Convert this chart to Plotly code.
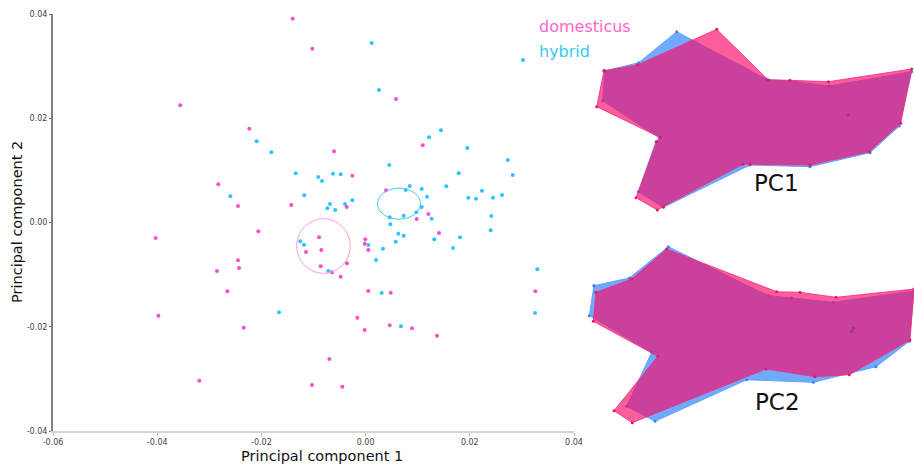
import plotly.graph_objects as go

# ---------------- scatter data (PC scores) ----------------
dom_x = [-0.01399, -0.03557, -0.02232, -0.02827, -0.02449, -0.01426, -0.02059, -0.04029,
         -0.01023, 0.00584, 0.01096, -0.00606, -0.00255, 0.00392, -0.00363, 0.01204,
         0.00981, 0.01409, -0.00894, -0.00006, -0.00017, 0.00052, -0.01144, -0.00850,
         -0.00862, -0.00645, -0.00357, -0.00478, 0.03257, 0.00052, 0.00482, -0.00159,
         -0.00017, 0.00463, 0.00891, 0.01371, -0.00697, -0.01029, -0.00447, -0.02449,
         -0.02430, -0.02852, -0.02654, -0.03979, -0.02340, -0.03192]
dom_y = [0.03910, 0.02248, 0.01800, 0.00733, 0.00316, 0.00336, -0.00169, -0.00297,
         0.03334, 0.02369, 0.01481, 0.01366, 0.00898, 0.00618, 0.00297, 0.00163,
         0.00067, -0.00202, -0.00284, -0.00322, -0.00407, -0.00528, -0.00566, -0.00528,
         -0.00840, -0.00956, -0.00783, -0.01040, -0.01320, -0.01314, -0.01347, -0.01826,
         -0.02062, -0.01972, -0.02030, -0.02172, -0.02619, -0.03118, -0.03150, -0.00725,
         -0.00873, -0.00931, -0.01320, -0.01788, -0.02018, -0.03035]

hyb_x = [-0.02090, -0.01810, -0.01342, -0.02597, 0.00117, 0.03021, 0.00257, 0.01447,
         0.01217, 0.01952, 0.02728, 0.02824, 0.00455, -0.00908, -0.00837, -0.00626,
         -0.00478, 0.01787, 0.00847, 0.01549, 0.00770, 0.01077, 0.02234, 0.01971,
         0.02119, 0.02445, 0.02618, 0.01179, -0.01177, -0.00683, -0.00735, -0.00582,
         -0.00395, -0.00255, 0.01077, 0.00973, 0.00731, 0.00463, 0.01269, 0.02413,
         0.02401, 0.00474, 0.00628, 0.00731, 0.01812, 0.01319, 0.00052, 0.00334,
         0.00578, 0.01678, 0.00200, -0.01253, -0.01182, -0.00716, 0.03296, 0.03252,
         0.00309, 0.00680, -0.01662]
hyb_y = [0.01558, 0.01347, 0.00944, 0.00503, 0.03444, 0.03117, 0.02542, 0.01769,
         0.01634, 0.01429, 0.01199, 0.00911, 0.01103, 0.00873, 0.00796, 0.00936,
         0.00925, 0.00944, 0.00700, 0.00694, 0.00623, 0.00643, 0.00610, 0.00476,
         0.00457, 0.00476, 0.00528, 0.00495, 0.00522, 0.00355, 0.00272, 0.00240,
         0.00355, 0.00426, 0.00297, 0.00196, 0.00130, 0.00100, 0.00073, 0.00125,
         -0.00150, -0.00035, -0.00215, -0.00253, -0.00284, -0.00322, -0.00432, -0.00503,
         -0.00368, -0.00489, -0.00720, -0.00361, -0.00426, -0.00931, -0.00898, -0.01736,
         -0.01353, -0.01992, -0.01723]

# group ellipses: [domesticus, hybrid]
ell_cx = [-0.00808, 0.00641]
ell_cy = [-0.00451, 0.00361]
ell_rx = [0.00514, 0.00413]
ell_ry = [0.00524, 0.00297]

x_tickvals = [-0.06, -0.04, -0.02, 0.0, 0.02, 0.04]
x_ticktext = ["-0.06", "-0.04", "-0.02", "0.00", "0.02", "0.04"]
y_tickvals = [-0.04, -0.02, 0.0, 0.02, 0.04]
y_ticktext = ["-0.04", "-0.02", "0.00", "0.02", "0.04"]

# ---------------- shape outlines (landmarks) ----------------
pc1_dom_x = [24, 57.3, 136.7, 188.3, 210, 248.3, 331.7, 320.7, 289.3, 230, 170, 162.7,
             83.3, 77.3, 56, 76.7, 80, 16.7]
pc1_dom_y = [70.7, 65, 29.3, 80, 80.3, 81.7, 69, 123.3, 151.7, 165, 164.3, 164.3,
             206.7, 210, 197.7, 141.7, 137.3, 106.7]
pc1_hyb_x = [25, 58.7, 96.7, 186.7, 210, 249.3, 331.7, 319.3, 290, 230, 170, 83.3,
             58.3, 76, 80, 22.7]
pc1_hyb_y = [71, 62.7, 31.7, 79.3, 81, 86, 71.7, 126, 152.7, 166.7, 165, 207.3,
             191.7, 141.7, 138.3, 100.7]

pc2_dom_x = [16, 51.7, 86.7, 196.7, 220, 256, 334, 330, 269.3, 235, 186, 52.3, 34,
             77.7, 13.3]
pc2_dom_y = [58.3, 45, 15, 57.7, 58.3, 63.3, 55, 106, 140.7, 142.7, 135, 188.7, 176.7,
             122.3, 87.3]
pc2_hyb_x = [14, 49.3, 88.3, 188.3, 211.7, 253.3, 334, 329.3, 296, 233.3, 166.7, 75,
             46.7, 71.7, 9.3]
pc2_hyb_y = [51.7, 44, 12.7, 61.7, 64, 68.3, 57, 107.3, 132.7, 148.3, 145.7, 187.3,
             172.3, 118.3, 81.7]

pc1_inner = [(268.3, 115)]
pc2_inner_dom = [(273.3, 94.3)]
pc2_inner_hyb = [(271.7, 97.3)]

PINK_PT = "#ff4dc4"
CYAN_PT = "#2cc4ff"
BLUE_FILL = "rgb(110,170,255)"
PINK_FILL = "rgba(250,10,105,0.66)"
FONT = "DejaVu Sans"

fig = go.Figure()

fig.add_trace(go.Scatter(x=dom_x, y=dom_y, mode="markers", name="domesticus",
                         marker=dict(size=4, color=PINK_PT), showlegend=False))
fig.add_trace(go.Scatter(x=hyb_x, y=hyb_y, mode="markers", name="hybrid",
                         marker=dict(size=4, color=CYAN_PT), showlegend=False))

ell_colors = ["#ff9ad8", "#45c6f2"]
for cx, cy, rx, ry, col in zip(ell_cx, ell_cy, ell_rx, ell_ry, ell_colors):
    fig.add_shape(type="circle", xref="x", yref="y", x0=cx - rx, x1=cx + rx,
                  y0=cy - ry, y1=cy + ry, line=dict(color=col, width=1))


def poly(xs, ys, fill, line_col, mk_col, xa, ya):
    fig.add_trace(go.Scatter(x=xs + [xs[0]], y=ys + [ys[0]], mode="lines+markers",
                             fill="toself", fillcolor=fill,
                             line=dict(color=line_col, width=1),
                             marker=dict(size=3, color=mk_col),
                             xaxis=xa, yaxis=ya, showlegend=False, hoverinfo="skip"))


poly(pc1_hyb_x, pc1_hyb_y, BLUE_FILL, "rgb(100,160,255)", "#3d80ff", "x2", "y2")
poly(pc1_dom_x, pc1_dom_y, PINK_FILL, "rgba(250,40,120,0.8)", "#e0186e", "x2", "y2")
poly(pc2_hyb_x, pc2_hyb_y, BLUE_FILL, "rgb(100,160,255)", "#3d80ff", "x3", "y3")
poly(pc2_dom_x, pc2_dom_y, PINK_FILL, "rgba(250,40,120,0.8)", "#e0186e", "x3", "y3")

for pts, col, xa, ya in [(pc1_inner, "#d0206e", "x2", "y2"),
                         (pc2_inner_dom, "#e0186e", "x3", "y3"),
                         (pc2_inner_hyb, "#7040c0", "x3", "y3")]:
    fig.add_trace(go.Scatter(x=[p[0] for p in pts], y=[p[1] for p in pts], mode="markers",
                             marker=dict(size=3, color=col), xaxis=xa, yaxis=ya,
                             showlegend=False, hoverinfo="skip"))

# page body margin is removed in post_script, so the figure fills the 914x468 window
OFF = 0
W, H = 914 - OFF, 468 - OFF
L, R, T, B = 53 - OFF, 0, 14 - OFF, 37
pw, ph = W - L - R, H - T - B


def dx(px):  # window pixel -> paper x
    return (px - OFF - L) / pw


def dy(py):  # window pixel -> paper y
    return (H - B - (py - OFF)) / ph


fig.update_layout(
    width=W, height=H,
    margin=dict(l=L, r=R, t=T, b=B, autoexpand=False),
    paper_bgcolor="white", plot_bgcolor="white",
    font=dict(family=FONT, color="#333"),
    showlegend=False,
    xaxis=dict(domain=[0, dx(574)], range=[-0.06, 0.04], tickvals=x_tickvals,
               ticktext=x_ticktext, showgrid=False, zeroline=False, showline=True,
               linecolor="#d4d4d4", linewidth=1.5, ticks="outside", ticklen=3,
               tickcolor="#bbb", tickfont=dict(size=8, color="#444"),
               automargin=False, anchor="y"),
    yaxis=dict(domain=[0, 1], range=[-0.04, 0.04], tickvals=y_tickvals,
               ticktext=y_ticktext, showgrid=False, zeroline=False, showline=True,
               linecolor="#808080", linewidth=2, ticks="outside", ticklen=2,
               tickcolor="#808080", tickfont=dict(size=8, color="#444"),
               automargin=False, anchor="x"),
    xaxis2=dict(domain=[dx(580), 1], range=[0, 334], visible=False, anchor="y2"),
    yaxis2=dict(domain=[dy(224), 1], range=[224, 14], visible=False, anchor="x2"),
    xaxis3=dict(domain=[dx(580), 1], range=[0, 334], visible=False, anchor="y3"),
    yaxis3=dict(domain=[0, dy(234)], range=[197, 0], visible=False, anchor="x3"),
)

fig.add_annotation(text="Principal component 1", xref="paper", yref="paper",
                   x=dx(322), y=dy(456), xanchor="center", yanchor="middle",
                   showarrow=False, font=dict(size=14.5, color="#111", family=FONT))
fig.add_annotation(text="Principal component 2", xref="paper", yref="paper",
                   x=dx(17), y=dy(222), xanchor="center", yanchor="middle",
                   textangle=-90, showarrow=False,
                   font=dict(size=14.5, color="#111", family=FONT))
fig.add_annotation(text="domesticus", xref="paper", yref="paper", x=dx(537), y=dy(26.5),
                   xanchor="left", yanchor="middle", showarrow=False,
                   font=dict(size=16, color="#ff66c8", family=FONT))
fig.add_annotation(text="hybrid", xref="paper", yref="paper", x=dx(537), y=dy(51.5),
                   xanchor="left", yanchor="middle", showarrow=False,
                   font=dict(size=16, color="#38c8fa", family=FONT))
fig.add_annotation(text="PC1", xref="paper", yref="paper", x=dx(776.5), y=dy(183),
                   xanchor="center", yanchor="middle", showarrow=False,
                   font=dict(size=23, color="#111", family=FONT))
fig.add_annotation(text="PC2", xref="paper", yref="paper", x=dx(777.5), y=dy(402),
                   xanchor="center", yanchor="middle", showarrow=False,
                   font=dict(size=23, color="#111", family=FONT))

fig.write_html(
    "out.html",
    config={"displayModeBar": False},
    post_script="document.documentElement.style.margin='0';"
                "document.documentElement.style.overflow='hidden';"
                "document.body.style.margin='0';document.body.style.overflow='hidden';",
)
